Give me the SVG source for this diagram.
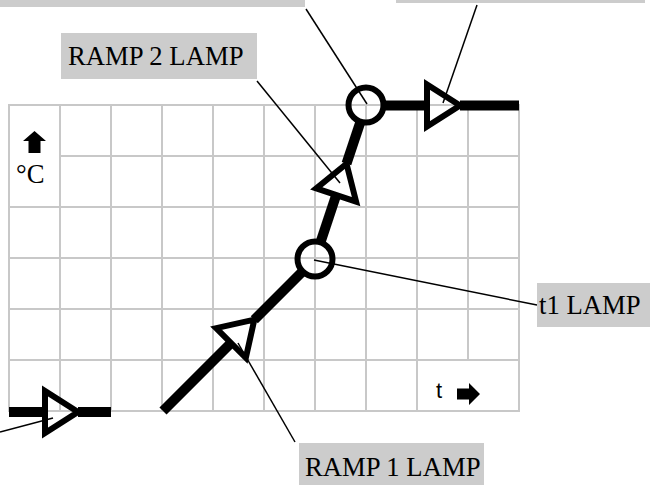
<svg xmlns="http://www.w3.org/2000/svg" width="650" height="485" viewBox="0 0 650 485">
<defs>
<style>
.grid line{stroke:#c8c8c8;stroke-width:2}
.bar{stroke:#000;stroke-width:10;fill:none;stroke-linecap:butt}
.tri{fill:none;stroke:#000;stroke-width:6;stroke-linejoin:miter}
.ring{fill:none;stroke:#000;stroke-width:6}
.lead{stroke:#000;stroke-width:1.5;fill:none}
.box{fill:#cccccc}
.lbl{font-family:"Liberation Serif","Times New Roman",serif;font-size:26.7px;fill:#000}
</style>
<polygon id="triShape" points="-17,-21 -17,21 16,0"/>
</defs>
<rect width="650" height="485" fill="#fff"/>
<g id="grid" class="grid">
<line x1="9" y1="105" x2="9" y2="411"/>
<line x1="60" y1="105" x2="60" y2="411"/>
<line x1="111" y1="105" x2="111" y2="411"/>
<line x1="162" y1="105" x2="162" y2="411"/>
<line x1="213" y1="105" x2="213" y2="411"/>
<line x1="264" y1="105" x2="264" y2="411"/>
<line x1="315" y1="105" x2="315" y2="411"/>
<line x1="366" y1="105" x2="366" y2="411"/>
<line x1="417" y1="105" x2="417" y2="411"/>
<line x1="468" y1="105" x2="468" y2="360"/>
<line x1="519" y1="105" x2="519" y2="411"/>
<line x1="8" y1="105" x2="520" y2="105"/>
<line x1="60" y1="156" x2="520" y2="156"/>
<line x1="8" y1="207" x2="520" y2="207"/>
<line x1="8" y1="258" x2="520" y2="258"/>
<line x1="8" y1="309" x2="520" y2="309"/>
<line x1="8" y1="360" x2="520" y2="360"/>
<line x1="8" y1="411" x2="520" y2="411"/>
</g>
<g id="axis-y">
<polygon points="34.5,131 46,141 40.5,141 40.5,153 28.5,153 28.5,141 23,141" fill="#000"/>
<text x="16" y="183" class="lbl">°C</text>
</g>
<g id="axis-t">
<text x="436" y="398" font-family="Liberation Sans, Arial, sans-serif" font-size="22" fill="#000">t</text>
<polygon points="457,388.5 469,388.5 469,383 480,394 469,405 469,399.5 457,399.5" fill="#000"/>
</g>
<g id="connectors">
<g id="curve">
<line class="bar" x1="9" y1="412" x2="45" y2="412"/>
<line class="bar" x1="78" y1="412" x2="111" y2="412"/>
<line class="bar" x1="163" y1="411" x2="231" y2="343"/>
<line class="bar" x1="254.3" y1="319.7" x2="303" y2="271"/>
<line class="bar" x1="320.3" y1="242.9" x2="336.2" y2="195"/>
<line class="bar" x1="346.5" y1="163.7" x2="360.7" y2="121.1"/>
<line class="bar" x1="383" y1="105.5" x2="427" y2="105.5"/>
<line class="bar" x1="460" y1="105.5" x2="519" y2="105.5"/>
</g>
<g id="leaders">
<line class="lead" x1="0" y1="432" x2="53" y2="418"/>
<line class="lead" x1="295" y1="442" x2="238" y2="343"/>
<line class="lead" x1="537" y1="305" x2="314" y2="260"/>
<line class="lead" x1="257" y1="81" x2="340" y2="183"/>
<line class="lead" x1="306" y1="9" x2="367" y2="104"/>
<line class="lead" x1="477" y1="5" x2="443" y2="103"/>
</g>
</g>
<g id="ramp0-lamp"><use href="#triShape" class="tri" transform="translate(62,412)"/></g>
<g id="ramp1-lamp"><use href="#triShape" class="tri" transform="translate(243,331) rotate(-45)"/></g>
<g id="ramp2-lamp"><use href="#triShape" class="tri" transform="translate(341.5,178.9) rotate(-71.7)"/></g>
<g id="hold-lamp"><use href="#triShape" class="tri" transform="translate(444,105.5)"/></g>
<g id="t1-point"><circle class="ring" cx="315" cy="259" r="17.5"/></g>
<g id="t2-point"><circle class="ring" cx="366" cy="105" r="17.5"/></g>
<g id="label-top-left"><rect class="box" x="0" y="0" width="305" height="7"/></g>
<g id="label-top-right"><rect class="box" x="396" y="0" width="249" height="3"/></g>
<g id="label-ramp2"><rect class="box" x="61" y="33" width="196" height="46"/><text x="68" y="65" class="lbl">RAMP 2 LAMP</text></g>
<g id="label-t1"><rect class="box" x="537" y="283" width="113" height="44"/><text x="539" y="314" class="lbl">t1 LAMP</text></g>
<g id="label-ramp1"><rect class="box" x="299" y="443" width="185" height="42"/><text x="305" y="476" class="lbl">RAMP 1 LAMP</text></g>
</svg>
